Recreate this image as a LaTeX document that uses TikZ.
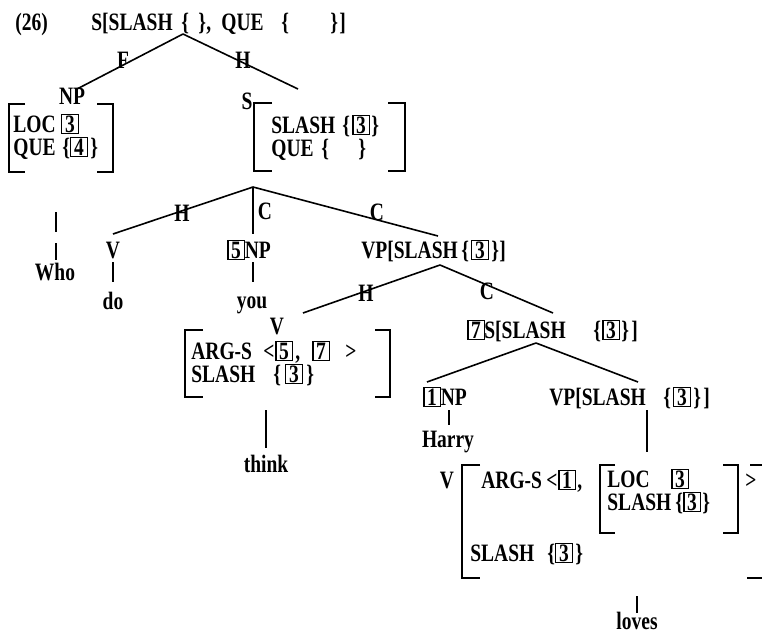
\documentclass[tikz,border=0pt]{standalone}
\usepackage{fontspec}
\setmainfont{Liberation Serif}[FakeStretch=0.78]
\newlength\px \setlength\px{0.5pt}
\newcommand\bx[1]{{\setlength\fboxsep{0.3pt}\setlength\fboxrule{0.55pt}\fbox{\makebox[7pt]{#1}}}}
\newcommand\at[2]{\makebox[0pt][l]{\hspace*{#1\px}#2}}
\tikzset{
  lbl/.style={inner sep=0pt, anchor=base west, font=\bfseries\fontsize{12.5}{14}\selectfont},
  lblc/.style={lbl, anchor=base},
  edge/.style={line width=0.8pt},
  brk/.style={line width=0.9pt},
}
\begin{document}
\begin{tikzpicture}[x=0.5pt,y=-0.5pt]
\useasboundingbox (0,0) rectangle (762,632);
% title
\node[lbl] (num) at (15,30) {(26)};
\node[lbl] (top) at (90,30) {\at{0}{S[SLASH}\at{90}{\{}\at{107}{\}}\at{115}{,}\at{130}{QUE}\at{190}{\{}\at{239}{\}}\at{248}{]}};
\coordinate (topA) at (183,34);
\coordinate (npT) at (77,89);
\coordinate (sT) at (298,89);
\draw[edge] (topA) -- (npT);
\draw[edge] (topA) -- (sT);
\node[lblc] (F) at (123,68) {F};
\node[lblc] (H1) at (243,68) {H};
% NP avm
\node[lblc] (np) at (72,104) {NP};
\draw[brk] (25,104) -- (9,104) -- (9,172) -- (25,172);
\draw[brk] (97,104) -- (113,104) -- (113,172) -- (97,172);
\node[lbl] (loc1) at (12,132) {\at{0}{LOC}\at{48}{\bx{3}}};
\node[lbl] (que1) at (12,155) {\at{0}{QUE}\at{49}{\{}\at{57}{\bx{4}}\at{77}{\}}};
% S avm
\node[lblc] (sl) at (247,109) {S};
\draw[brk] (272,103) -- (254,103) -- (254,171) -- (272,171);
\draw[brk] (388,103) -- (405,103) -- (405,171) -- (388,171);
\node[lbl] (sl1) at (270,133) {\at{0}{SLASH}\at{71}{\{}\at{81}{\bx{3}}\at{100}{\}}};
\node[lbl] (sq1) at (270,156) {\at{0}{QUE}\at{50}{\{}\at{87}{\}}};
% middle
\coordinate (sA) at (253,187);
\coordinate (vT) at (113,234);
\coordinate (npT2) at (253,234);
\coordinate (vpT) at (438,236);
\draw[edge] (sA) -- (vT);
\draw[edge] (sA) -- (npT2);
\draw[edge] (sA) -- (vpT);
\node[lblc] (H2) at (182,221) {H};
\node[lblc] (C1) at (265,219) {C};
\node[lblc] (C2) at (377,220) {C};
% Who
\coordinate (w1) at (56,212);
\coordinate (w2) at (56,232);
\coordinate (w3) at (56,243);
\coordinate (w4) at (56,260);
\draw[edge] (w1) -- (w2);
\draw[edge] (w3) -- (w4);
\node[lblc] (who) at (55,280) {Who};
% do
\node[lblc] (v1) at (113,258) {V};
\coordinate (d1) at (113,262);
\coordinate (d2) at (113,282);
\draw[edge] (d1) -- (d2);
\node[lblc] (do) at (113,309) {do};
% you
\node[lbl] (np5) at (227,258) {\bx{5}NP};
\coordinate (y1) at (253,262);
\coordinate (y2) at (253,282);
\draw[edge] (y1) -- (y2);
\node[lblc] (you) at (252,308) {you};
% VP
\node[lbl] (vp1) at (360,258) {\at{0}{VP[SLASH}\at{100}{\{}\at{110}{\bx{3}}\at{130}{\}}\at{138}{]}};
\coordinate (vpA) at (440,265);
\coordinate (thT) at (303,313);
\coordinate (s7T) at (553,313);
\draw[edge] (vpA) -- (thT);
\draw[edge] (vpA) -- (s7T);
\node[lblc] (H3) at (366,301) {H};
\node[lblc] (C3) at (487,299) {C};
% think avm
\node[lblc] (v2) at (277,334) {V};
\draw[brk] (203,330) -- (185,330) -- (185,397) -- (203,397);
\draw[brk] (375,330) -- (390,330) -- (390,397) -- (375,397);
\node[lbl] (args1) at (190,359) {\at{0}{ARG-S}\at{72}{<}\at{84}{\bx{5}}\at{104}{,}\at{121}{\bx{7}}\at{154}{>}};
\node[lbl] (sl2) at (190,382) {\at{0}{SLASH}\at{82}{\{}\at{94}{\bx{3}}\at{115}{\}}};
\coordinate (t1) at (266,410);
\coordinate (t2) at (266,448);
\draw[edge] (t1) -- (t2);
\node[lblc] (think) at (266,472) {think};
% 7S
\node[lbl] (s7) at (466,338) {\at{0}{\bx{7}}\at{17}{S[SLASH}\at{126}{\{}\at{135}{\bx{3}}\at{154}{\}}\at{164}{]}};
\coordinate (s7A) at (536,343);
\coordinate (np1T) at (427,382);
\coordinate (vp2T) at (638,382);
\draw[edge] (s7A) -- (np1T);
\draw[edge] (s7A) -- (vp2T);
\node[lbl] (np1) at (423,405) {\bx{1}NP};
\coordinate (h1) at (449,410);
\coordinate (h2) at (449,425);
\draw[edge] (h1) -- (h2);
\node[lblc] (harry) at (448,447) {Harry};
\node[lbl] (vp2) at (548,405) {\at{0}{VP[SLASH}\at{114}{\{}\at{124}{\bx{3}}\at{144}{\}}\at{154}{]}};
\coordinate (l1) at (647,410);
\coordinate (l2) at (647,452);
\draw[edge] (l1) -- (l2);
% loves avm
\node[lblc] (v3) at (447,488) {V};
\draw[brk] (480,465) -- (462,465) -- (462,578) -- (480,578);
\node[lbl] (args2) at (480,488) {\at{0}{ARG-S}\at{65}{<}\at{77}{\bx{1}}\at{96}{,}};
\draw[brk] (615,465) -- (600,465) -- (600,533) -- (615,533);
\draw[brk] (723,465) -- (738,465) -- (738,533) -- (723,533);
\node[lbl] (loc2) at (606,487) {\at{0}{LOC}\at{64}{\bx{3}}};
\node[lbl] (sl3) at (606,510) {\at{0}{SLASH}\at{68}{\{}\at{76}{\bx{3}}\at{95}{\}}};
\node[lbl] (gt) at (745,488) {>};
\draw[brk] (750,465) -- (762,465);
\draw[brk] (747,578) -- (762,578);
\node[lbl] (sl4) at (469,561) {\at{0}{SLASH}\at{77}{\{}\at{85}{\bx{3}}\at{105}{\}}};
\coordinate (lv1) at (637,596);
\coordinate (lv2) at (637,613);
\draw[edge] (lv1) -- (lv2);
\node[lblc] (loves) at (637,629) {loves};
\end{tikzpicture}
\end{document}
